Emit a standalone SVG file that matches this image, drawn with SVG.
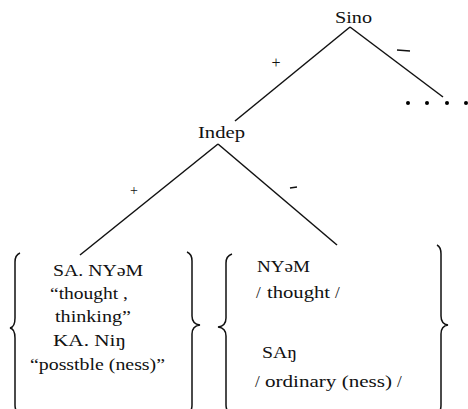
<svg xmlns="http://www.w3.org/2000/svg" width="468" height="409" viewBox="0 0 468 409">
<style>
text{font-family:"Liberation Serif","DejaVu Serif",serif;font-size:16px;fill:#111}
.top{font-size:17px}
.sl{font-size:17px}
.ln{stroke:#111;stroke-width:1.5;fill:none}
.br{stroke:#111;stroke-width:1.5;fill:none}
</style>
<rect width="468" height="409" fill="#fff"/>
<g id="connectors">
<line class="ln" x1="350" y1="27" x2="235" y2="121"/>
<line class="ln" x1="350" y1="27" x2="443" y2="97"/>
<line class="ln" x1="218" y1="144" x2="80" y2="255"/>
<line class="ln" x1="218" y1="144" x2="337" y2="245"/>
<text x="276" y="68" text-anchor="middle">+</text>
<line class="ln" x1="397" y1="50" x2="410" y2="51"/>
<text x="134" y="195" text-anchor="middle" style="font-size:14px">+</text>
<line class="ln" x1="290" y1="188" x2="297" y2="187"/>
</g>
<g id="node-sino">
<text class="top" x="335" y="23" textLength="37" lengthAdjust="spacingAndGlyphs">Sino</text>
</g>
<g id="node-dots">
<circle cx="408" cy="103" r="2"/>
<circle cx="427" cy="103" r="2"/>
<circle cx="447" cy="103" r="2"/>
<circle cx="466" cy="103" r="2"/>
</g>
<g id="node-indep">
<text class="top" x="198" y="138" textLength="47" lengthAdjust="spacingAndGlyphs">Indep</text>
</g>
<g id="node-plus">
<path class="br" d="M20,253 Q15,255 15,262 L15,318 Q15,327 10,328 Q15,329 15,338 L15,405 Q15,412 20,414"/>
<path class="br" d="M187,252 Q192,254 192,261 L192,316 Q192,324 200,325 Q192,326 192,334 L192,405 Q192,412 187,414"/>
<text x="53" y="276" textLength="90" lengthAdjust="spacingAndGlyphs">SA. NYəM</text>
<text x="50" y="299" textLength="78" lengthAdjust="spacingAndGlyphs">“thought ,</text>
<text x="55" y="322" textLength="76" lengthAdjust="spacingAndGlyphs">thinking”</text>
<text x="53" y="346" textLength="73" lengthAdjust="spacingAndGlyphs">KA.  Niŋ</text>
<text x="30" y="370" textLength="135" lengthAdjust="spacingAndGlyphs">“posstble (ness)”</text>
</g>
<g id="node-minus">
<path class="br" d="M232,254 Q226,256 226,263 L226,318 Q226,326 218,327 Q226,328 226,336 L226,405 Q226,412 232,414"/>
<path class="br" d="M437,245 Q441,247 441,254 L441,316 Q441,324 448,325 Q441,326 441,334 L441,405 Q441,412 437,414"/>
<text x="257" y="272" textLength="53" lengthAdjust="spacingAndGlyphs">NYəM</text>
<text class="sl" x="256" y="298">/</text>
<text x="267" y="298" textLength="63" lengthAdjust="spacingAndGlyphs">thought</text>
<text class="sl" x="335" y="298">/</text>
<text x="262" y="358" textLength="35" lengthAdjust="spacingAndGlyphs">SAŋ</text>
<text class="sl" x="255" y="387">/</text>
<text x="265" y="387" textLength="127" lengthAdjust="spacingAndGlyphs">ordinary (ness)</text>
<text class="sl" x="397" y="387">/</text>
</g>
</svg>
